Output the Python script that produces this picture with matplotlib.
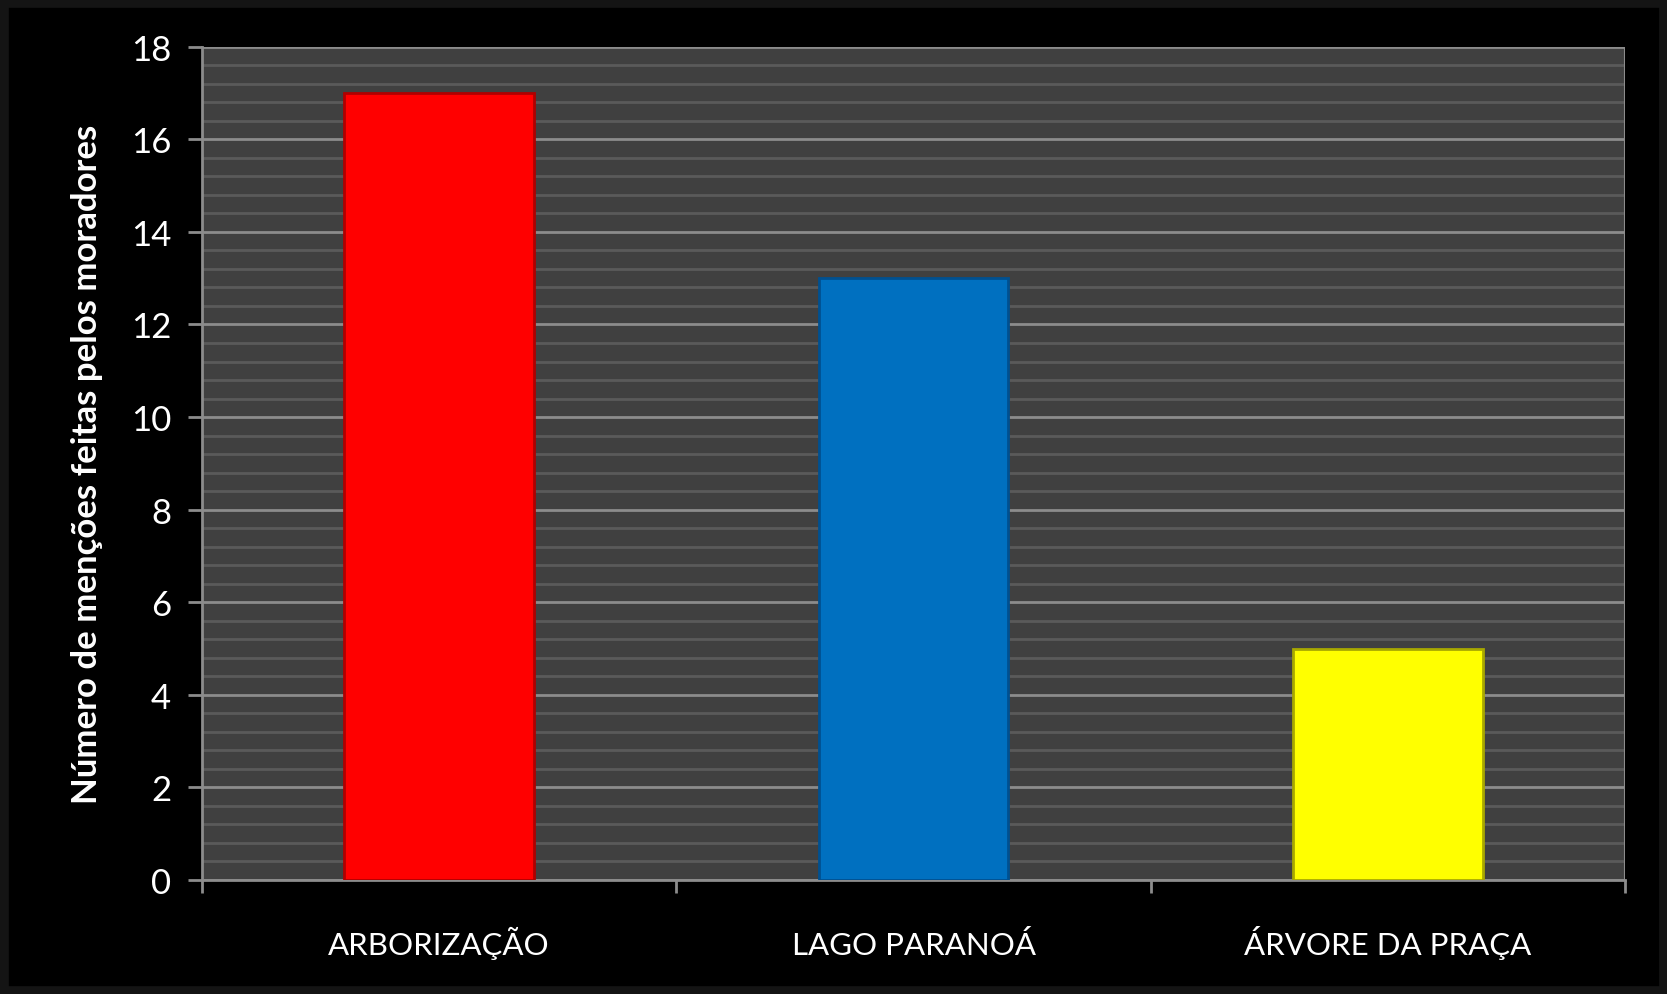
import matplotlib
matplotlib.use("Agg")
import matplotlib.pyplot as plt
from matplotlib.patches import Rectangle
from matplotlib.ticker import MultipleLocator

plt.rcParams['font.family'] = ['Lato', 'DejaVu Sans']

categorias = ["ARBORIZAÇÃO", "LAGO PARANOÁ", "ÁRVORE DA PRAÇA"]
mencoes = [17, 13, 5]
cores = ["#FF0000", "#0070C0", "#FFFF00"]
bordas = ["#B00000", "#005090", "#A8A800"]

fig = plt.figure(figsize=(16.67, 9.95), dpi=100, facecolor="black")
# moldura cinza escura em volta da figura
fig.patches.append(Rectangle((0, 0), 1, 1, transform=fig.transFigure,
                             fill=False, edgecolor="#141414", linewidth=12))
ax = fig.add_axes([0.121, 0.1146, 0.854, 0.8374])
ax.set_facecolor("#404040")

x = range(len(categorias))
ax.bar(x, mencoes, width=0.4, color=cores, edgecolor=bordas, linewidth=2, zorder=3)

ax.set_xlim(-0.5, 2.5)
ax.set_ylim(0, 18)
ax.yaxis.set_major_locator(MultipleLocator(2))
ax.yaxis.set_minor_locator(MultipleLocator(0.4))
ax.grid(which="major", axis="y", color="#8C8C8C", linewidth=2, zorder=1)
ax.grid(which="minor", axis="y", color="#5A5A5A", linewidth=2, zorder=1)

# rótulos das categorias no meio, ticks nas divisões
ax.set_xticks([-0.5, 0.5, 1.5, 2.5])
ax.set_xticklabels([])
ax.set_xticks(list(x), minor=True)
ax.set_xticklabels(categorias, minor=True)
for lab in ax.get_xticklabels(minor=True):
    lab.set_va("baseline")
ax.tick_params(axis="x", which="major", length=9, width=2, color="#8C8C8C")
ax.tick_params(axis="x", which="minor", length=0, pad=53, labelsize=22.5, labelcolor="white")
ax.tick_params(axis="y", which="major", length=10, width=2, color="#8C8C8C",
               labelsize=25, labelcolor="white", pad=12)
ax.tick_params(axis="y", which="minor", length=0)

for lado in ["top", "right"]:
    ax.spines[lado].set_visible(False)
ax.spines["left"].set_color("#8C8C8C")
ax.spines["left"].set_linewidth(2)
ax.spines["bottom"].set_color("#8C8C8C")
ax.spines["bottom"].set_linewidth(2)
ax.axvline(2.5, color="#8C8C8C", linewidth=1.5, zorder=2)

ax.set_ylabel("Número de menções feitas pelos moradores", fontsize=25,
              fontweight="bold", color="white", labelpad=20)

fig.savefig("out.png", dpi=100, facecolor="black")
